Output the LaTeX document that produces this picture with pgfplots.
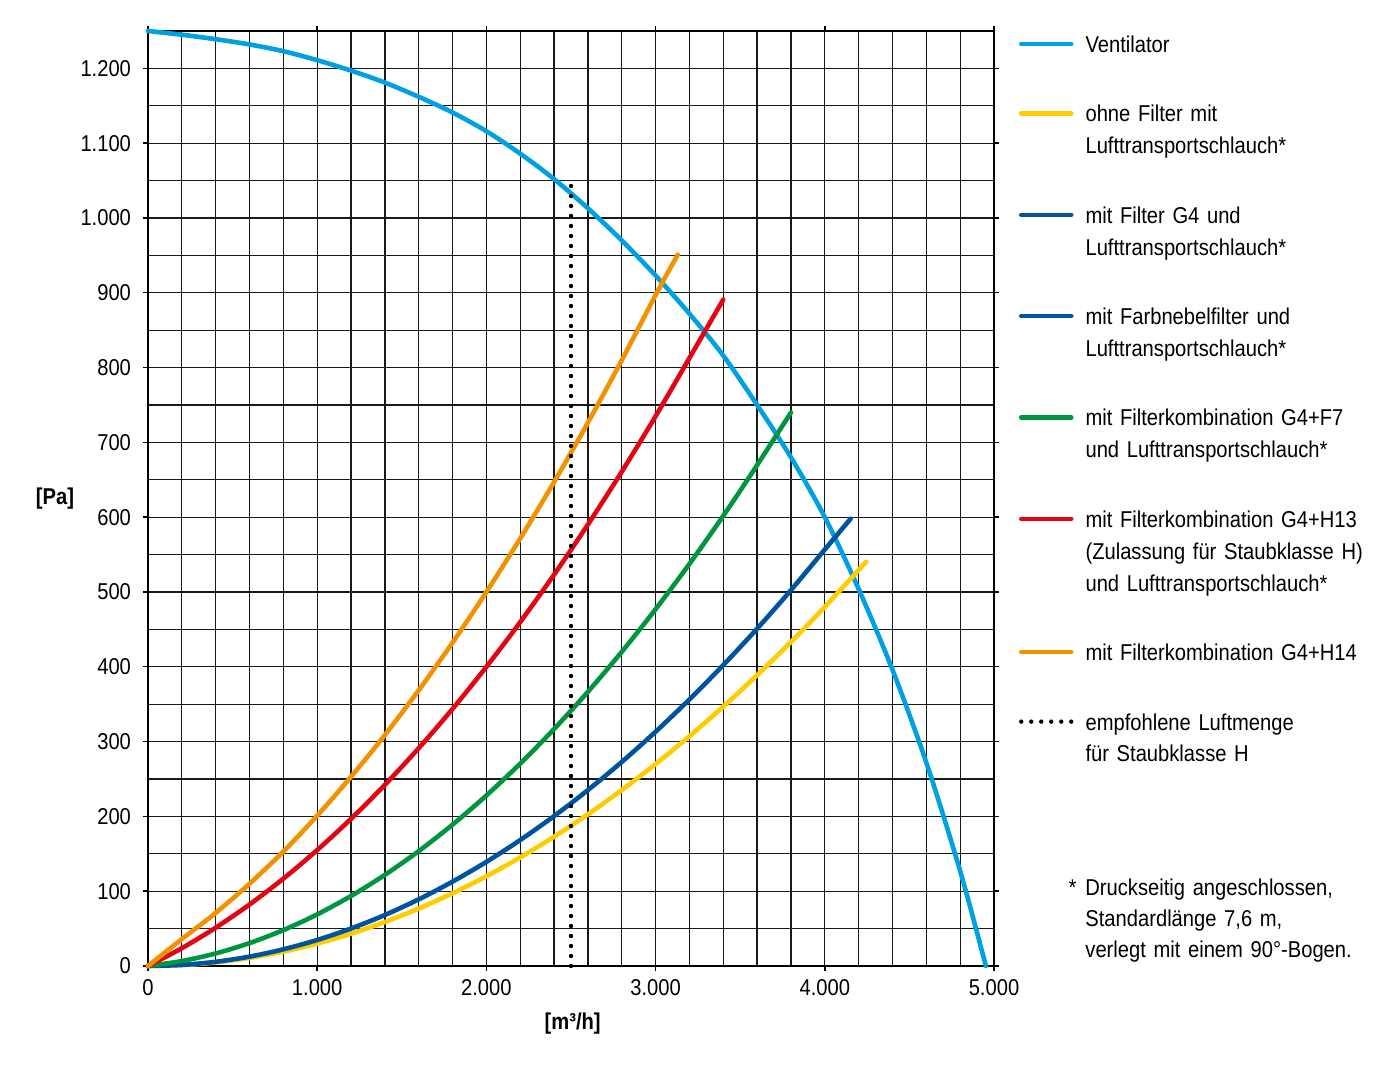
\documentclass[border=0pt]{standalone}
\usepackage{pgfplots}
\pgfplotsset{compat=1.18}
\usepackage{fontspec}
\setmainfont[FakeStretch=0.88]{Liberation Sans}

\definecolor{cvent}{RGB}{0,160,227}
\definecolor{cyel}{RGB}{255,204,0}
\definecolor{cblue}{RGB}{0,83,159}
\definecolor{cgreen}{RGB}{0,150,64}
\definecolor{cred}{RGB}{228,5,20}
\definecolor{corange}{RGB}{243,146,0}

\begin{document}
\fontsize{11.5}{16}\selectfont
\begin{tikzpicture}
\useasboundingbox (-74bp,-50.5bp) rectangle (626bp,483bp);
\begin{axis}[
  scale only axis, width=423bp, height=467.5bp,
  xmin=0, xmax=5000, ymin=0, ymax=1250,
  clip=false,
  xtick={0,1000,...,5000}, ytick={0,100,...,1200},
  minor xtick={200,400,600,800,1200,1400,1600,1800,2200,2400,2600,2800,3200,3400,3600,3800,4200,4400,4600,4800},
  minor ytick={50,150,...,1150},
  grid=both,
  grid style={black!90, line width=0.65bp},
  minor grid style={black!90, line width=0.65bp},
  axis line style={black, line width=0.7bp},
  tick align=outside, major tick length=2.5bp, minor tick length=0pt,
  tick style={black, line width=0.7bp},
  /pgf/number format/1000 sep={.},
  /pgf/number format/assume math mode=true,
  ticklabel style={font=\fontsize{11.5}{14}\selectfont},
  yticklabel style={xshift=-2bp},
  xlabel={\bfseries [m³/h]}, ylabel={\bfseries [Pa]},
  label style={font=\fontsize{13.5}{16}\selectfont},
  every axis x label/.style={at={(rel axis cs:0.502,-0.062)}, anchor=center},
  every axis y label/.style={at={(rel axis cs:-0.11,0.5)}, anchor=center},
  legend style={at={(1.0295,1.001)}, anchor=north west, draw=none, fill=none,
    inner sep=0pt, outer sep=0pt, row sep=18.8bp, column sep=6bp,
    font=\fontsize{11.5}{16}\selectfont,
    cells={anchor=base west},
    nodes={inner sep=0pt, text depth=, text width=160bp, align=left}},
  legend image code/.code={\draw[#1] (0.5bp,4.2bp) -- (25.5bp,4.2bp);},
  every axis plot/.append style={line width=2.3bp, line cap=round},
]
\addplot[cvent, smooth] coordinates {
  (0,1250) (200,1245) (400,1239) (600,1232) (800,1223) (1000,1211)
  (1200,1197) (1400,1181) (1600,1162) (1800,1141) (2000,1116) (2200,1086)
  (2400,1052) (2600,1013) (2800,970) (3000,923) (3200,872) (3400,816)
  (3600,750) (3800,680) (4000,600) (4200,504) (4400,396) (4600,272)
  (4800,127) (4952,0)
};
\addlegendentry{\strut Ventilator\strut}

\addplot[cyel, smooth] coordinates {
  (0,0) (200,1.2) (400,4.8) (600,10.8) (800,19.2) (1000,30) (1200,43.2)
  (1400,58.8) (1600,76.8) (1800,97.2) (2000,120) (2200,145.2) (2400,172.8)
  (2600,202.8) (2800,235.2) (3000,270) (3200,307.2) (3400,346.8)
  (3600,388.8) (3800,433.2) (4000,480) (4245,540.6)
};
\addlegendentry{\strut ohne Filter mit\\Lufttransportschlauch*\strut}

\addplot[cblue, smooth] coordinates {
  (0,0) (200,1.4) (400,5.6) (600,12.5) (800,22.3) (1000,34.8) (1200,50.1)
  (1400,68.2) (1600,89.1) (1800,112.8) (2000,139.2) (2200,168.4)
  (2400,200.4) (2600,235.2) (2800,272.8) (3000,313.2) (3200,356.4)
  (3400,402.3) (3600,451) (3800,502.5) (4000,556.8) (4153,598)
};
\addlegendentry{\strut mit Filter G4 und\\Lufttransportschlauch*\strut}

\addlegendimage{cblue, line width=2.3bp, line cap=round}
\addlegendentry{\strut mit Farbnebelfilter und\\Lufttransportschlauch*\strut}

\addplot[cgreen, smooth] coordinates {
  (0,0) (200,6.6) (400,16.8) (600,30.6) (800,48) (1000,69) (1200,93.6)
  (1400,121.8) (1600,153.6) (1800,189) (2000,228) (2200,270.6)
  (2400,316.8) (2600,366.6) (2800,420) (3000,477) (3200,537.6)
  (3400,601.8) (3600,669.6) (3800,740)
};
\addlegendentry{\strut mit Filterkombination G4+F7\\und Lufttransportschlauch*\strut}

\addplot[cred, smooth] coordinates {
  (0,0) (200,23.8) (400,51.2) (600,82.2) (800,116.8) (1000,155)
  (1200,196.8) (1400,242.2) (1600,291.2) (1800,343.8) (2000,400)
  (2200,459.8) (2400,523.2) (2600,590.2) (2800,660.8) (3000,735)
  (3200,812.8) (3400,891)
};
\addlegendentry{\strut mit Filterkombination G4+H13\\(Zulassung für Staubklasse H)\\und Lufttransportschlauch*\strut}

\addplot[corange, smooth] coordinates {
  (0,0) (200,36) (400,71) (600,110) (800,153) (1000,201) (1200,253)
  (1400,308.8) (1600,368.6) (1800,432.4) (2000,500) (2200,571.6)
  (2400,647) (2600,726.4) (2800,809.8) (3000,897) (3131,951)
};
\addlegendentry{\strut mit Filterkombination G4+H14\strut}

\addplot[black, line width=2.2bp, dash pattern=on 0pt off 5bp] coordinates {
  (2500,0) (2500,1050)
};
\addlegendentry{\strut empfohlene Luftmenge\\für Staubklasse H\strut}

\node[anchor=base west, inner sep=0pt, text width=200bp, align=left,
  font=\fontsize{11.5}{15.75}\selectfont]
  at (rel axis cs:1.1076,0.0759)
  {\llap{*\hspace{4.5bp}}Druckseitig angeschlossen,\\Standardlänge 7,6 m,\\verlegt mit einem 90°-Bogen.};
\end{axis}
\end{tikzpicture}
\end{document}
